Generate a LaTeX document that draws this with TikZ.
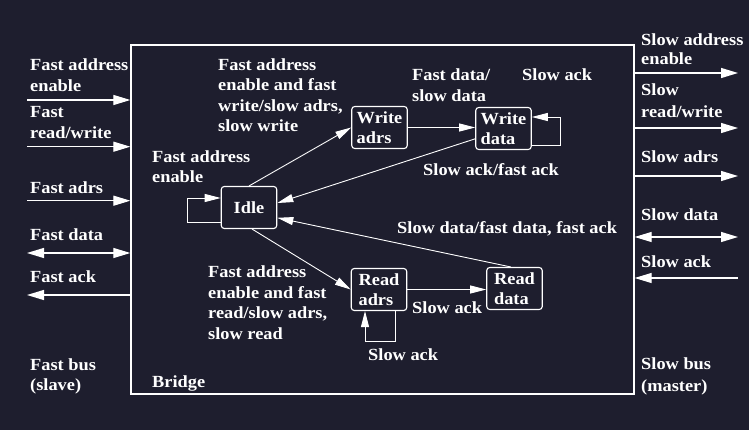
\documentclass[tikz,border=0pt]{standalone}
\usepackage{fontspec}
\setmainfont[FakeStretch=1.08]{Liberation Serif}
\usetikzlibrary{arrows.meta,calc}
\definecolor{bg}{RGB}{30,30,46}
\newcommand\ml[2][20.5pt]{\vtop{\baselineskip=#1\halign{##\hfil\cr#2\crcr}}}
\begin{document}
\begin{tikzpicture}[x=1pt,y=-1pt,
  font=\fontsize{17}{20}\selectfont\bfseries, text=white,
  lbl/.style={anchor=base west, inner sep=0pt},
  state/.style={draw=white, line width=1.1pt, rounded corners=3pt, minimum width=55.5pt,
    minimum height=42pt, inner sep=0pt, align=left},
  edge/.style={draw=white, line width=0.9pt, -{Triangle[length=16pt,width=8pt]}},
  ext/.style={draw=white, line width=1.2pt},
  xtip/.tip={Triangle[length=17pt,width=10pt]}]
\fill[bg] (0,0) rectangle (749,430);
\useasboundingbox (0,0) rectangle (749,430);

% bridge box
\node[draw=white, line width=1.3pt, minimum width=503pt, minimum height=349pt, inner sep=0pt] (bridge) at (382.5,219.5) {};
\node[lbl] (bridgelbl) at (152,387) {Bridge};

% external ends
\coordinate (l1) at (27,100);
\coordinate (l2) at (27,146.7);
\coordinate (l3) at (27,200.7);
\coordinate (l4) at (27,253);
\coordinate (l5) at (27,295);
\coordinate (r1) at (738,73);
\coordinate (r2) at (738,128);
\coordinate (r3) at (738,176);
\coordinate (r4) at (738,237);
\coordinate (r5) at (738,278);

\draw[ext,-xtip] (l1) -- (l1 -| bridge.west);
\draw[ext,-xtip] (l2) -- (l2 -| bridge.west);
\draw[ext,-xtip] (l3) -- (l3 -| bridge.west);
\draw[ext,xtip-xtip] (l4) -- (l4 -| bridge.west);
\draw[ext,xtip-] (l5) -- (l5 -| bridge.west);
\draw[ext,-xtip] (r1 -| bridge.east) -- (r1);
\draw[ext,-xtip] (r2 -| bridge.east) -- (r2);
\draw[ext,-xtip] (r3 -| bridge.east) -- (r3);
\draw[ext,xtip-xtip] (r4 -| bridge.east) -- (r4);
\draw[ext,xtip-] (r5 -| bridge.east) -- (r5);

% left labels
\node[lbl] (la1) at (30,70.7) {\ml[20.5pt]{Fast address\cr enable}};
\node[lbl] (la2) at (30,117.3) {\ml[21.5pt]{Fast\cr read/write}};
\node[lbl] (la3) at (30,193.3) {Fast adrs};
\node[lbl] (la4) at (30,240.7) {Fast data};
\node[lbl] (la5) at (30,282.7) {Fast ack};
\node[lbl] (la6) at (30,370.7) {\ml[20pt]{Fast bus\cr (slave)}};

% right labels
\node[lbl] (ra1) at (641,46) {\ml[18.3pt]{Slow address\cr enable}};
\node[lbl] (ra2) at (641,96) {\ml[21.7pt]{Slow\cr read/write}};
\node[lbl] (ra3) at (641,163) {Slow adrs};
\node[lbl] (ra4) at (641,221) {Slow data};
\node[lbl] (ra5) at (641,267) {Slow ack};
\node[lbl] (ra6) at (641,369) {\ml[22pt]{Slow bus\cr (master)}};

% states
\node[state] (idle) at (249,207.5) {Idle};
\node[state] (wadrs) at (379.5,127.5) {Write\\adrs};
\node[state] (wdata) at (503.5,128.5) {Write\\data};
\node[state] (radrs) at (379,289.5) {Read\\adrs};
\node[state] (rdata) at (514.5,288.5) {Read\\data};

% transitions
\draw[edge] ([yshift=-14.5pt]idle.west) -- ++(-33,0) |- ([yshift=9.5pt]idle.west);
\draw[edge] (idle.north) -- (wadrs.west);
\draw[edge] (wadrs.east) -- (wadrs.east -| wdata.west);
\draw[edge] ([yshift=-16.5pt]wdata.east) -- ++(29,0) |- ([yshift=11.5pt]wdata.east);
\draw[edge] (wdata.200) -- (idle.9);
\draw[edge] (rdata.100) -- (idle.-20);
\draw[edge] (idle.-82) -- (radrs.west);
\draw[edge] (radrs.east) -- (radrs.east -| rdata.west);
\draw[edge] ([xshift=16pt]radrs.south) -- ++(0,30) -| ([xshift=-14pt]radrs.south);

% transition labels
\node[lbl] (t1) at (218,70.5) {\ml[20.5pt]{Fast address\cr enable and fast\cr write/slow adrs,\cr slow write}};
\node[lbl] (t2) at (152,162.7) {\ml[20pt]{Fast address\cr enable}};
\node[lbl] (t3) at (412,80.7) {\ml[21pt]{Fast data/\cr slow data}};
\node[lbl] (t4) at (522,80.7) {Slow ack};
\node[lbl] (t5) at (423,176) {Slow ack/fast ack};
\node[lbl] (t6) at (397,234) {Slow data/fast data, fast ack};
\node[lbl] (t7) at (208,277.3) {\ml[20.8pt]{Fast address\cr enable and fast\cr read/slow adrs,\cr slow read}};
\node[lbl] (t8) at (412,313) {Slow ack};
\node[lbl] (t9) at (368,360.7) {Slow ack};
\end{tikzpicture}
\end{document}
